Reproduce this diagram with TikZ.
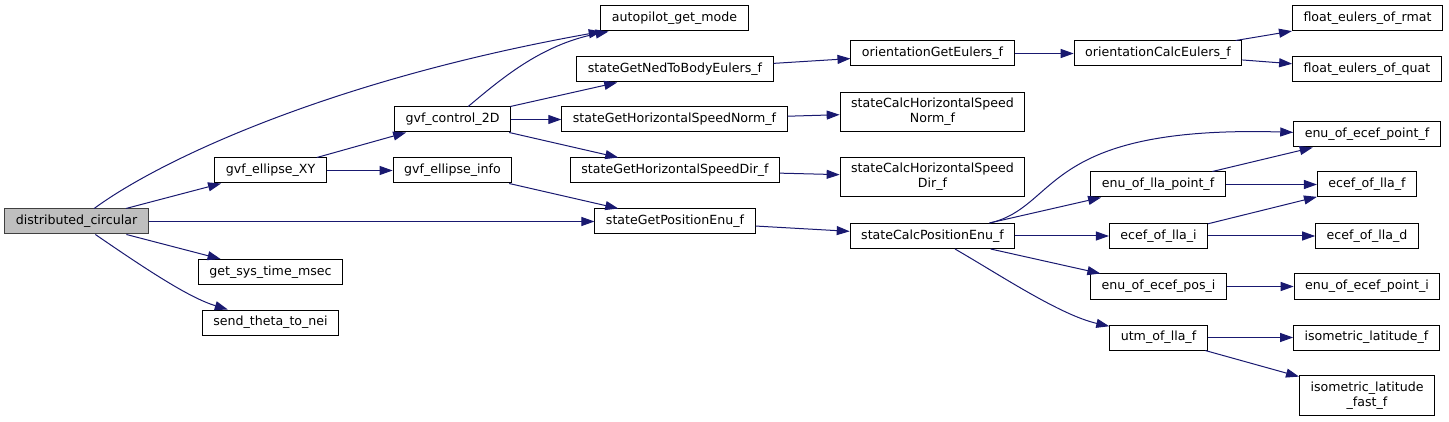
\documentclass[tikz,border=0pt]{standalone}
\usepackage{fontspec}
\setmainfont{DejaVu Sans}
\usetikzlibrary{arrows.meta}
\definecolor{callblue}{HTML}{191970}
\definecolor{rootgrey}{HTML}{BFBFBF}

\begin{document}
\begin{tikzpicture}[x=1pt, y=-1pt,
  fn/.style={rectangle, draw=black, fill=white, line width=1pt,
             inner xsep=11pt, inner ysep=6pt, minimum height=25pt,
             align=center, font=\fontsize{12.6}{15}\selectfont},
  root/.style={fn, fill=rootgrey, draw=black!75},
  call/.style={->, draw=callblue, line width=1pt},
  >={Triangle[length=13pt,width=9pt]}
]
  \useasboundingbox (0,0) rectangle (1449,422);

  \node[root] (dc) at (76.5,221.5) {distributed\_circular};
  \node[fn] (gxy) at (270.5,170.5) {gvf\_ellipse\_XY};
  \node[fn] (systime) at (270.5,272) {get\_sys\_time\_msec};
  \node[fn] (sendtheta) at (270.5,322.5) {send\_theta\_to\_nei};
  \node[fn] (gctrl) at (452.5,119.5) {gvf\_control\_2D};
  \node[fn] (ginfo) at (452.5,170.5) {gvf\_ellipse\_info};
  \node[fn] (apmode) at (674.5,18.5) {autopilot\_get\_mode};
  \node[fn] (nedeul) at (675,69.5) {stateGetNedToBodyEulers\_f};
  \node[fn] (hsnorm) at (674.5,119.5) {stateGetHorizontalSpeedNorm\_f};
  \node[fn] (hsdir) at (675,170.5) {stateGetHorizontalSpeedDir\_f};
  \node[fn] (posenu) at (675,221.5) {stateGetPositionEnu\_f};
  \node[fn] (orgeteul) at (932.5,53.5) {orientationGetEulers\_f};
  \node[fn] (calcnorm) at (932.5,112) {stateCalcHorizontalSpeed\\Norm\_f};
  \node[fn] (calcdir) at (932.5,177) {stateCalcHorizontalSpeed\\Dir\_f};
  \node[fn] (calcpos) at (932.5,236) {stateCalcPositionEnu\_f};
  \node[fn] (orcalceul) at (1158,53.5) {orientationCalcEulers\_f};
  \node[fn] (ellapf) at (1158,184.5) {enu\_of\_lla\_point\_f};
  \node[fn] (ecefi) at (1158.5,236) {ecef\_of\_lla\_i};
  \node[fn] (eepos) at (1158.5,286.5) {enu\_of\_ecef\_pos\_i};
  \node[fn] (utm) at (1158.5,337.5) {utm\_of\_lla\_f};
  \node[fn] (eulrmat) at (1367.5,18.5) {float\_eulers\_of\_rmat};
  \node[fn] (eulquat) at (1367,69.5) {float\_eulers\_of\_quat};
  \node[fn] (eepf) at (1367,134.5) {enu\_of\_ecef\_point\_f};
  \node[fn] (eceff) at (1367,184.5) {ecef\_of\_lla\_f};
  \node[fn] (ecefd) at (1367,236) {ecef\_of\_lla\_d};
  \node[fn] (eepi) at (1367,286.5) {enu\_of\_ecef\_point\_i};
  \node[fn] (isolat) at (1366.5,337.5) {isometric\_latitude\_f};
  \node[fn] (isofast) at (1367,395.5) {isometric\_latitude\\\_fast\_f};

  % calls from the root
  \draw[call] (dc) .. controls (160,160) and (330,80) .. (apmode);
  \draw[call] (dc) -- (gxy);
  \draw[call] (dc) -- (posenu);
  \draw[call] (dc) -- (systime);
  \draw[call] (dc) .. controls (150,272) and (190,298) .. (sendtheta);

  \draw[call] (gxy) -- (gctrl);
  \draw[call] (gxy) -- (ginfo);
  \draw[call] (gctrl) .. controls (500,80) and (540,45) .. (apmode);
  \draw[call] (gctrl) -- (nedeul);
  \draw[call] (gctrl) -- (hsnorm);
  \draw[call] (gctrl) -- (hsdir);
  \draw[call] (ginfo) -- (posenu);

  \draw[call] (nedeul) -- (orgeteul);
  \draw[call] (hsnorm) -- (calcnorm);
  \draw[call] (hsdir) -- (calcdir);
  \draw[call] (posenu) -- (calcpos);
  \draw[call] (orgeteul) -- (orcalceul);
  \draw[call] (orcalceul) -- (eulrmat);
  \draw[call] (orcalceul) -- (eulquat);

  % enu / ecef / utm helpers
  \draw[call] (calcpos) .. controls (1060,207) and (1040,125) .. (eepf);
  \draw[call] (calcpos) -- (ellapf);
  \draw[call] (calcpos) -- (ecefi);
  \draw[call] (calcpos) -- (eepos);
  \draw[call] (calcpos) .. controls (1000,275) and (1060,315) .. (utm);
  \draw[call] (ellapf) -- (eepf);
  \draw[call] (ellapf) -- (eceff);
  \draw[call] (ecefi) -- (eceff);
  \draw[call] (ecefi) -- (ecefd);
  \draw[call] (eepos) -- (eepi);
  \draw[call] (utm) -- (isolat);
  \draw[call] (utm) -- (isofast);
\end{tikzpicture}
\end{document}
